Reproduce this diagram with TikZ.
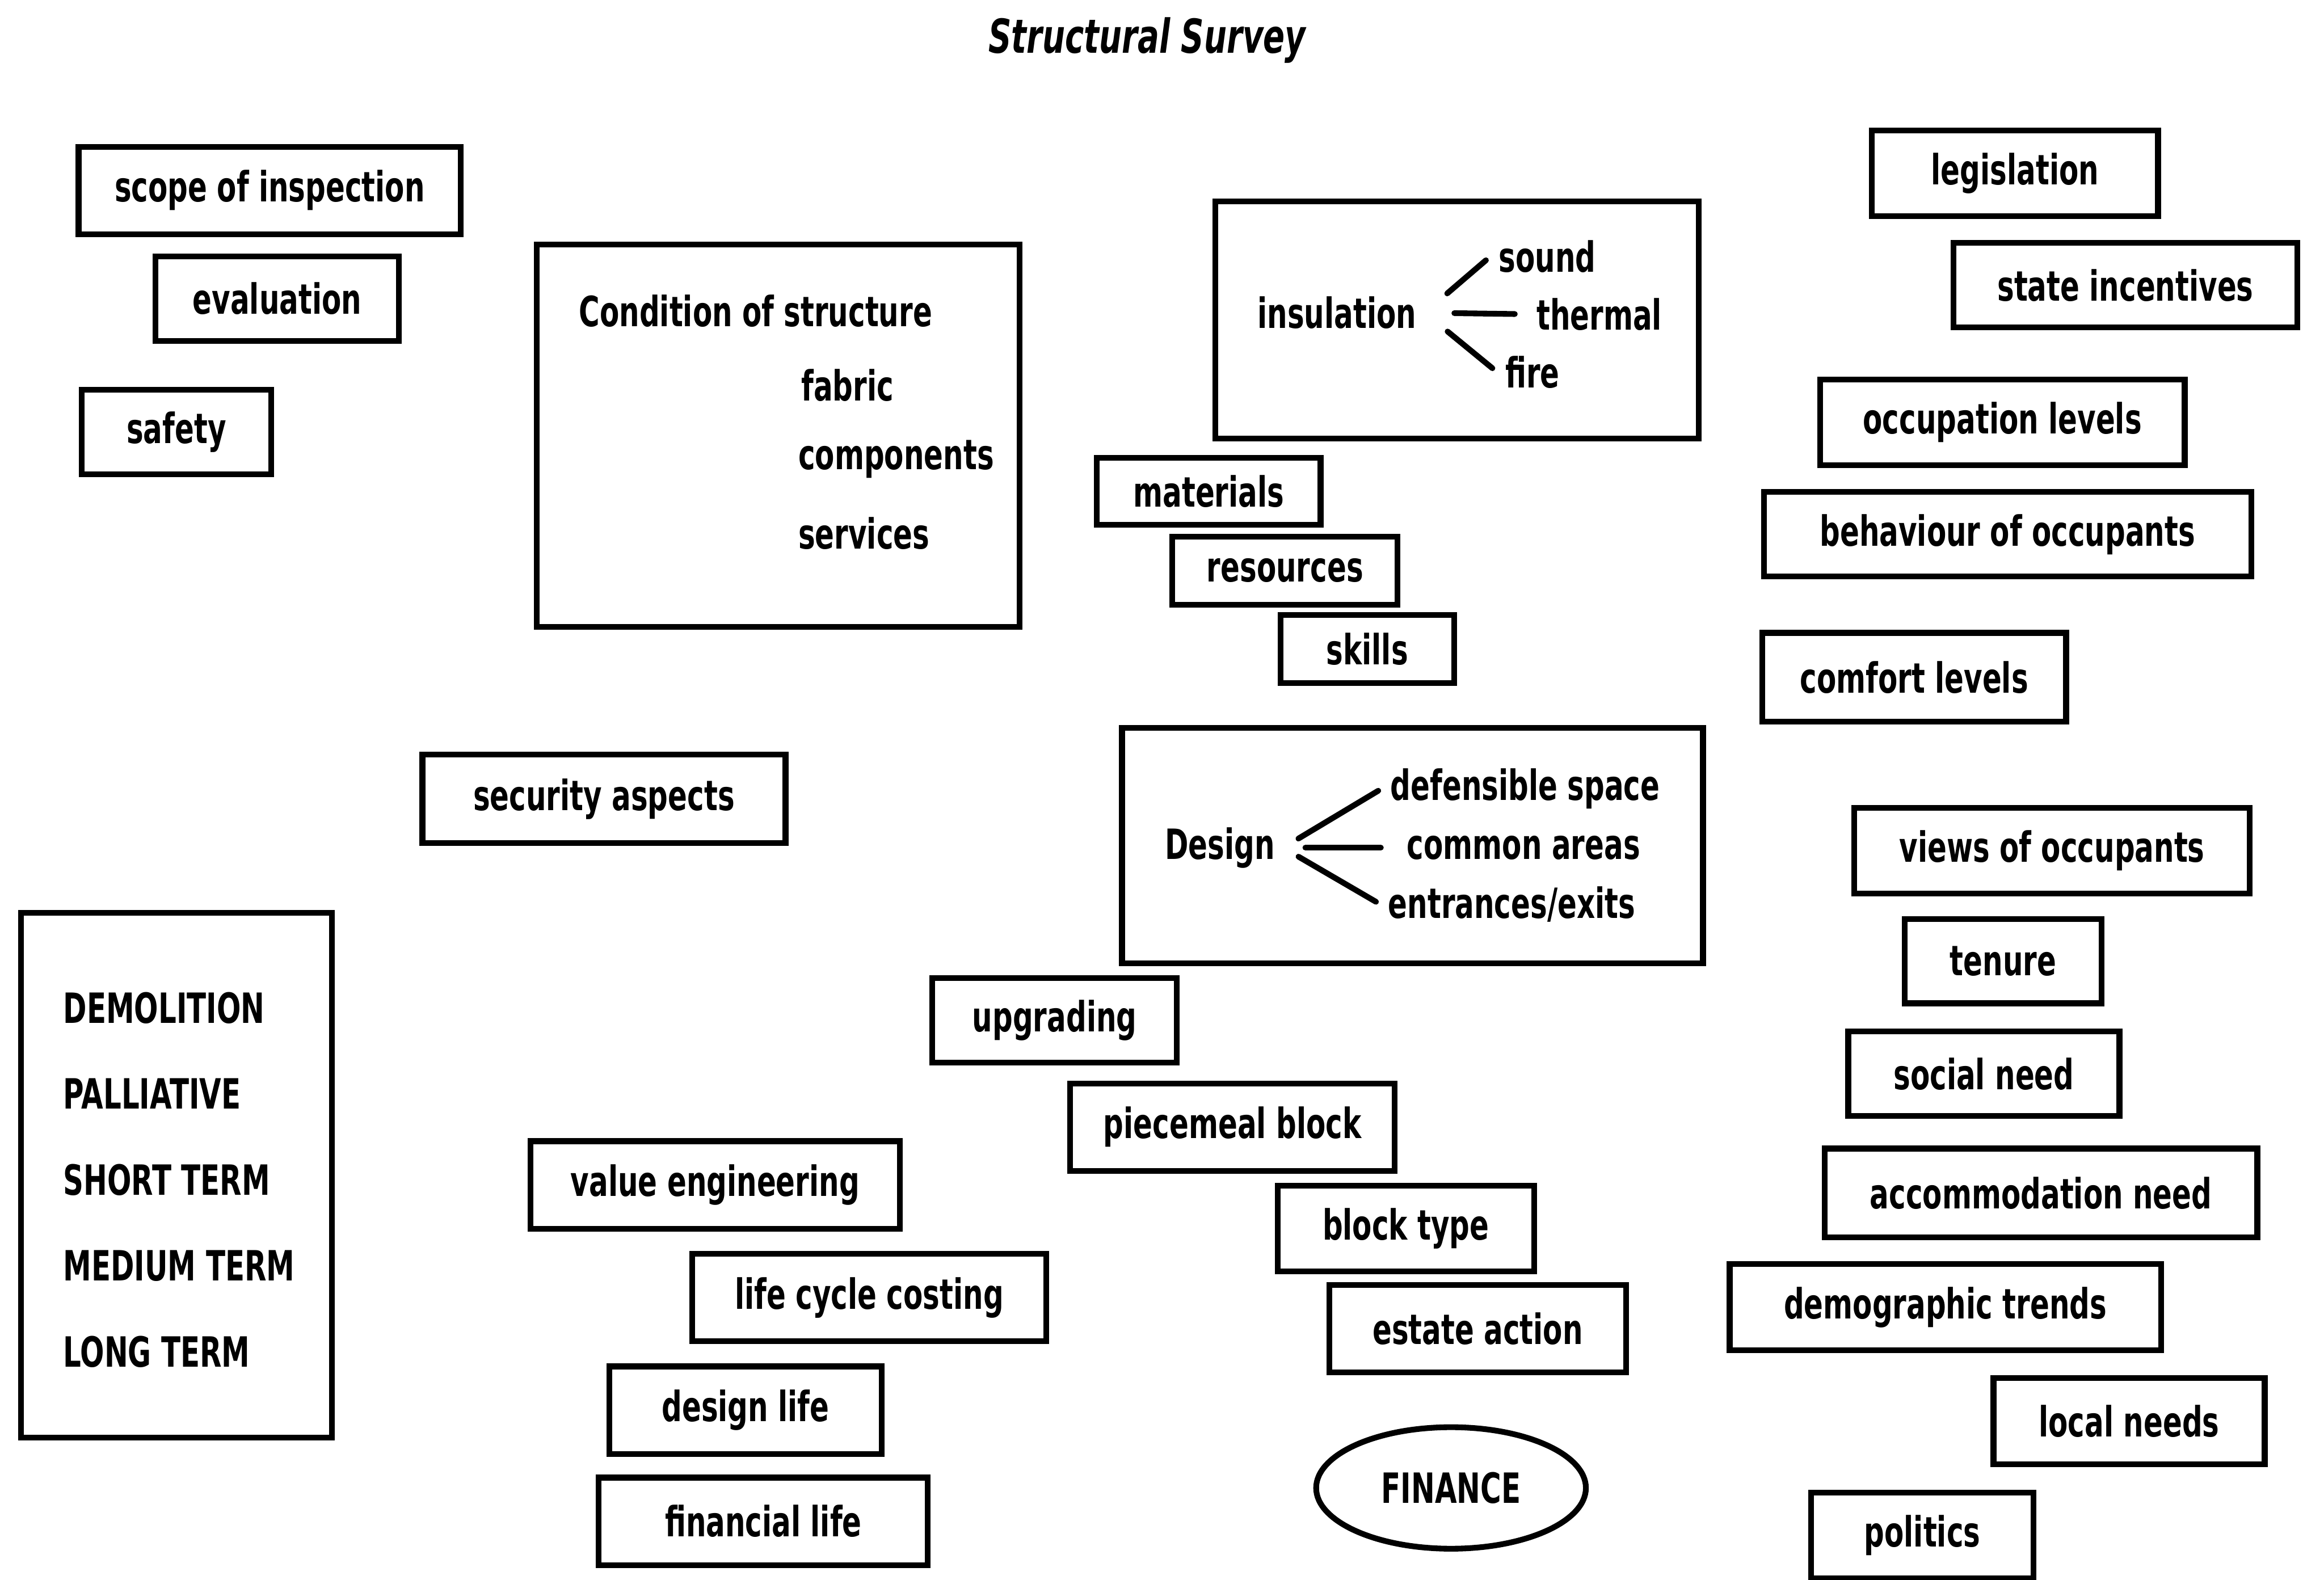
\documentclass[tikz,border=0pt]{standalone}
\usepackage{fontspec}
\usepackage{tikz}
\usetikzlibrary{shapes.geometric}
\newfontfamily\surveyfont{DejaVu Sans}[FakeStretch=0.68]

\begin{document}
\begin{tikzpicture}[x=0.1mm, y=-0.1mm,
    itembox/.style={draw, line width=1.1pt, inner sep=0pt, font=\surveyfont\bfseries\fontsize{8}{9}\selectfont},
    itemtext/.style={inner sep=0.5mm, font=\surveyfont\bfseries\fontsize{8}{9}\selectfont},
    branch/.style={line width=1.1pt, line cap=round}]
            \useasboundingbox (0,0) rectangle (1568,1066);
            \node[font=\surveyfont\bfseries\itshape\fontsize{9}{10}\selectfont] (title) at (774,27) {Structural Survey};

            \node[itembox, minimum width=25.8mm, minimum height=5.9mm] (scope) at (182,128.5) {scope of inspection};
            \node[itembox, minimum width=16.4mm, minimum height=5.7mm] (evaluation) at (187,201.5) {evaluation};
            \node[itembox, minimum width=12.8mm, minimum height=5.7mm] (safety) at (119,291.5) {safety};

            \node[itembox, minimum width=32.6mm, minimum height=25.8mm] (condition) at (525,294) {};
            \node[itemtext, anchor=west] (cond-title) at (385,210) {Condition of structure};
            \node[itemtext, anchor=west] (fabric) at (535,260) {fabric};
            \node[itemtext, anchor=west] (components) at (533,310) {components};
            \node[itemtext, anchor=west] (services) at (533,360) {services};

            \node[itembox, minimum width=32.6mm, minimum height=16mm] (insul-box) at (983,216) {};
            \node[itemtext] (insul) at (902,211) {insulation};
            \node[itemtext] (sound) at (1044,173) {sound};
            \node[itemtext] (thermal) at (1079,212) {thermal};
            \node[itemtext] (fire) at (1034,251) {fire};
            \draw[branch, shorten <=2mm, shorten >=0.4mm] (insul.east) -- (sound.west);
            \draw[branch, shorten <=2mm, shorten >=0.9mm] (insul.east) -- (thermal.west);
            \draw[branch, shorten <=2mm, shorten >=0.4mm] (insul.east) -- (fire.west);

            \node[itembox, minimum width=15.1mm, minimum height=4.5mm] (materials) at (815.5,331.5) {materials};
            \node[itembox, minimum width=15.2mm, minimum height=4.6mm] (resources) at (867,385) {resources};
            \node[itembox, minimum width=11.7mm, minimum height=4.6mm] (skills) at (922.5,438) {skills};

            \node[itembox, minimum width=19.3mm, minimum height=5.8mm] (legislation) at (1359.5,117) {legislation};
            \node[itembox, minimum width=23.2mm, minimum height=5.7mm] (incentives) at (1434,192.5) {state incentives};
            \node[itembox, minimum width=24.6mm, minimum height=5.8mm] (occupation) at (1351,285) {occupation levels};
            \node[itembox, minimum width=32.9mm, minimum height=5.7mm] (behaviour) at (1354.5,360.5) {behaviour of occupants};
            \node[itembox, minimum width=20.5mm, minimum height=6mm] (comfort) at (1291.5,457) {comfort levels};

            \node[itembox, minimum width=24.5mm, minimum height=6mm] (security) at (407.5,539) {security aspects};

            \node[itembox, minimum width=39.2mm, minimum height=15.9mm] (design-box) at (953,570.5) {};
            \node[itemtext] (design) at (823,572) {Design};
            \node[itemtext] (defensible) at (1029,532) {defensible space};
            \node[itemtext] (common) at (1028,572) {common areas};
            \node[itemtext] (entrances) at (1020,610) {entrances/exits};
            \draw[branch, shorten <=1.2mm, shorten >=0.3mm] (design.east) -- (defensible.west);
            \draw[branch, shorten <=1.5mm, shorten >=1.2mm] (design.east) -- (common.west);
            \draw[branch, shorten <=1.2mm, shorten >=0.3mm] (design.east) -- (entrances.west);

            \node[itembox, minimum width=21mm, minimum height=35.4mm] (options) at (119,793) {};
            \foreach \word [count=\i] in {DEMOLITION, PALLIATIVE, SHORT TERM, MEDIUM TERM, LONG TERM}
                \node[itemtext, anchor=west] (option-\i) at (37,622+58*\i) {\word};

            \node[itembox, minimum width=26.7mm, minimum height=5.8mm] (views) at (1384.5,574) {views of occupants};
            \node[itembox, minimum width=13.3mm, minimum height=5.7mm] (tenure) at (1351.5,648.5) {tenure};
            \node[itembox, minimum width=18.3mm, minimum height=5.7mm] (social) at (1338.5,724.5) {social need};
            \node[itembox, minimum width=29.2mm, minimum height=6mm] (accommodation) at (1377,805) {accommodation need};
            \node[itembox, minimum width=29.1mm, minimum height=5.8mm] (demographic) at (1312.5,882) {demographic trends};
            \node[itembox, minimum width=18.3mm, minimum height=5.8mm] (local) at (1436.5,959) {local needs};
            \node[itembox, minimum width=15mm, minimum height=5.8mm] (politics) at (1297,1036) {politics};

            \node[itembox, minimum width=16.5mm, minimum height=5.7mm] (upgrading) at (711.5,688.5) {upgrading};
            \node[itembox, minimum width=21.9mm, minimum height=5.9mm] (piecemeal) at (831.5,760.5) {piecemeal block};
            \node[itembox, minimum width=17.3mm, minimum height=5.8mm] (blocktype) at (948.5,829) {block type};
            \node[itembox, minimum width=20mm, minimum height=5.9mm] (estate) at (997,896.5) {estate action};

            \node[itembox, minimum width=24.9mm, minimum height=5.9mm] (value) at (482.5,799.5) {value engineering};
            \node[itembox, minimum width=23.9mm, minimum height=5.9mm] (lifecycle) at (586.5,875.5) {life cycle costing};
            \node[itembox, minimum width=18.4mm, minimum height=5.9mm] (designlife) at (503,951.5) {design life};
            \node[itembox, minimum width=22.2mm, minimum height=5.9mm] (financial) at (515,1026.5) {financial life};

            \node[itembox, ellipse, minimum width=18.2mm, minimum height=8.2mm] (finance) at (979,1004) {FINANCE};
        \end{tikzpicture}
\end{document}
